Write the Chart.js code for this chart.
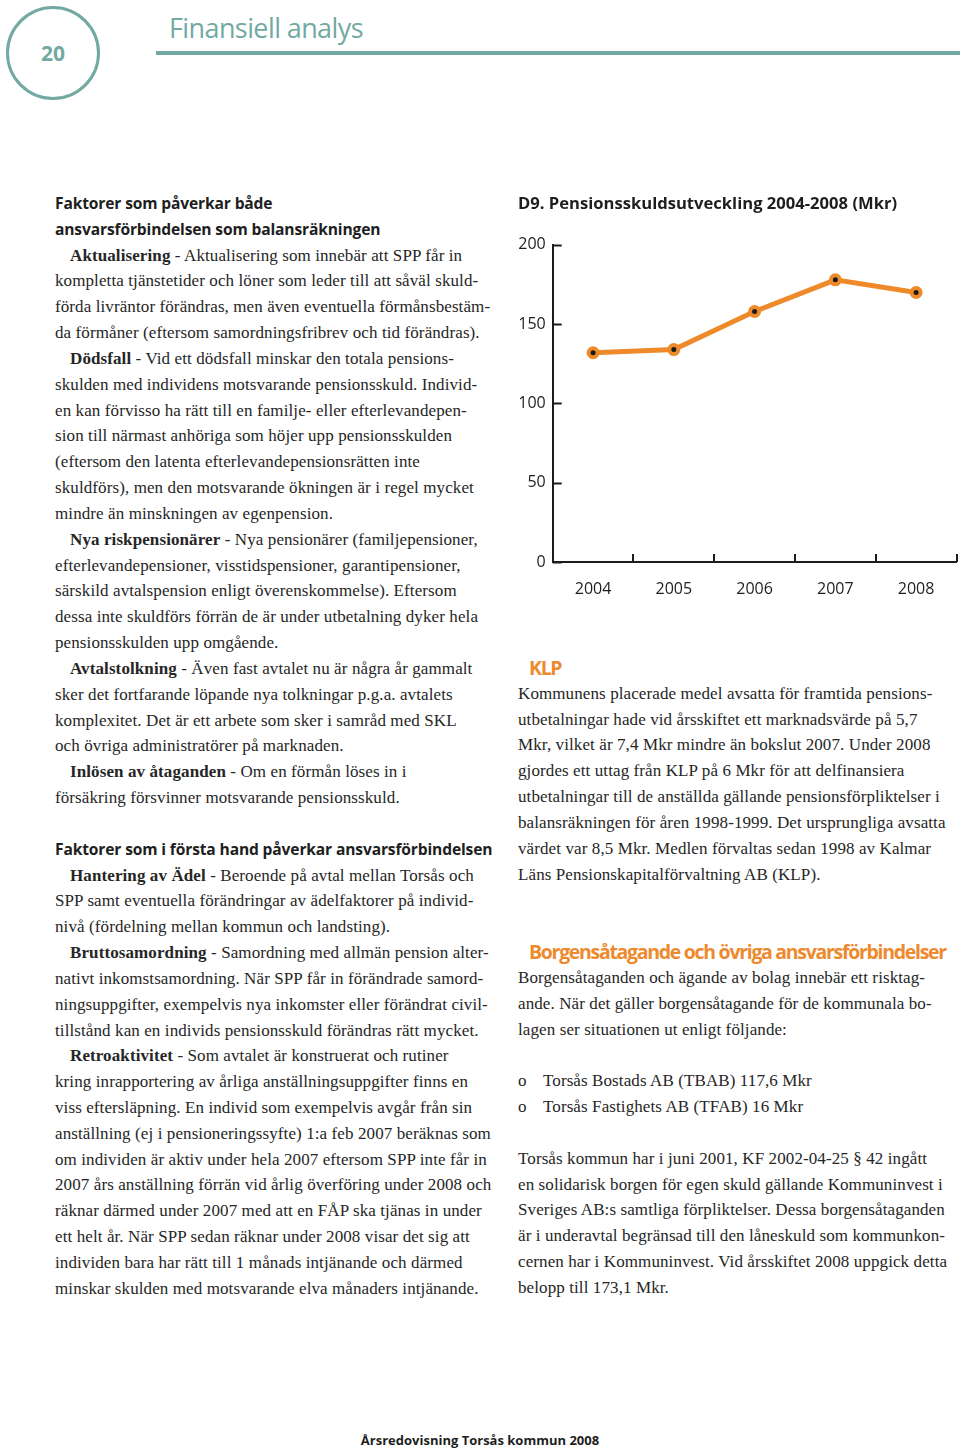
<!DOCTYPE html>
<html lang="sv">
<head>
<meta charset="utf-8">
<title>Finansiell analys</title>
<script src="https://cdn.jsdelivr.net/npm/chart.js@4.4.0/dist/chart.umd.min.js"></script>
<style>
  body { margin: 0; width: 960px; height: 1450px; background: #fff; position: relative; overflow: hidden; }
  .page-no { position: absolute; left: 6px; top: 6px; width: 88px; height: 88px; border: 3px solid #72a9a2; border-radius: 50%;
    font: bold 21px "Open Sans", sans-serif; color: #72a9a2; display: flex; align-items: center; justify-content: center; }
  .rubrik { position: absolute; left: 169px; top: 9px; font: 27px "Open Sans", sans-serif; font-weight: 400; color: #72a9a2; letter-spacing: -0.6px; }
  .linje { position: absolute; left: 156px; top: 51px; width: 804px; height: 4px; background: #72a9a2; }
  .col { position: absolute; font-family: "Liberation Serif", serif; font-size: 17px; letter-spacing: 0.1px; line-height: 25.83px; color: #262626; white-space: nowrap; }
  .col div { height: 25.83px; }
  .in { padding-left: 15px; }
  .h { font-family: "Open Sans", sans-serif; font-weight: 700; font-size: 15.6px; letter-spacing: -0.15px; color: #1e1e1e; }
  .or { font-family: "Open Sans", sans-serif; font-weight: 700; color: #ee8a2e; font-size: 19.5px; letter-spacing: -1.3px; padding-left: 11px; }
  .pt { display: inline-block; width: 25px; }
  .chart-box { position: absolute; left: 510px; top: 190px; width: 455px; height: 415px; }
  .fot { position: absolute; left: 0; width: 960px; top: 1431px; text-align: center; font: bold 13px "Open Sans", sans-serif; color: #1e1e1e; }
</style>
</head>
<body>
<div class="page-no">20</div>
<div class="rubrik">Finansiell analys</div>
<div class="linje"></div>

<div class="col" style="left:55px; top:191px;">
  <div class="h">Faktorer som påverkar både</div>
  <div class="h">ansvarsförbindelsen som balansräkningen</div>
  <div class="in"><b>Aktualisering</b> - Aktualisering som innebär att SPP får in</div>
  <div>kompletta tjänstetider och löner som leder till att såväl skuld-</div>
  <div>förda livräntor förändras, men även eventuella förmånsbestäm-</div>
  <div>da förmåner (eftersom samordningsfribrev och tid förändras).</div>
  <div class="in"><b>Dödsfall</b> - Vid ett dödsfall minskar den totala pensions-</div>
  <div>skulden med individens motsvarande pensionsskuld. Individ-</div>
  <div>en kan förvisso ha rätt till en familje- eller efterlevandepen-</div>
  <div>sion till närmast anhöriga som höjer upp pensionsskulden</div>
  <div>(eftersom den latenta efterlevandepensionsrätten inte</div>
  <div>skuldförs), men den motsvarande ökningen är i regel mycket</div>
  <div>mindre än minskningen av egenpension.</div>
  <div class="in"><b>Nya riskpensionärer</b> - Nya pensionärer (familjepensioner,</div>
  <div>efterlevandepensioner, visstidspensioner, garantipensioner,</div>
  <div>särskild avtalspension enligt överenskommelse). Eftersom</div>
  <div>dessa inte skuldförs förrän de är under utbetalning dyker hela</div>
  <div>pensionsskulden upp omgående.</div>
  <div class="in"><b>Avtalstolkning</b> - Även fast avtalet nu är några år gammalt</div>
  <div>sker det fortfarande löpande nya tolkningar p.g.a. avtalets</div>
  <div>komplexitet. Det är ett arbete som sker i samråd med SKL</div>
  <div>och övriga administratörer på marknaden.</div>
  <div class="in"><b>Inlösen av åtaganden</b> - Om en förmån löses in i</div>
  <div>försäkring försvinner motsvarande pensionsskuld.</div>
  <div></div>
  <div class="h">Faktorer som i första hand påverkar ansvarsförbindelsen</div>
  <div class="in"><b>Hantering av Ädel</b> - Beroende på avtal mellan Torsås och</div>
  <div>SPP samt eventuella förändringar av ädelfaktorer på individ-</div>
  <div>nivå (fördelning mellan kommun och landsting).</div>
  <div class="in"><b>Bruttosamordning</b> - Samordning med allmän pension alter-</div>
  <div>nativt inkomstsamordning. När SPP får in förändrade samord-</div>
  <div>ningsuppgifter, exempelvis nya inkomster eller förändrat civil-</div>
  <div>tillstånd kan en individs pensionsskuld förändras rätt mycket.</div>
  <div class="in"><b>Retroaktivitet</b> - Som avtalet är konstruerat och rutiner</div>
  <div>kring inrapportering av årliga anställningsuppgifter finns en</div>
  <div>viss eftersläpning. En individ som exempelvis avgår från sin</div>
  <div>anställning (ej i pensioneringssyfte) 1:a feb 2007 beräknas som</div>
  <div>om individen är aktiv under hela 2007 eftersom SPP inte får in</div>
  <div>2007 års anställning förrän vid årlig överföring under 2008 och</div>
  <div>räknar därmed under 2007 med att en FÅP ska tjänas in under</div>
  <div>ett helt år. När SPP sedan räknar under 2008 visar det sig att</div>
  <div>individen bara har rätt till 1 månads intjänande och därmed</div>
  <div>minskar skulden med motsvarande elva månaders intjänande.</div>
</div>

<div class="chart-box"><canvas id="pensionChart"></canvas></div>

<div class="col" style="left:518px; top:655px;">
  <div class="or">KLP</div>
  <div>Kommunens placerade medel avsatta för framtida pensions-</div>
  <div>utbetalningar hade vid årsskiftet ett marknadsvärde på 5,7</div>
  <div>Mkr, vilket är 7,4 Mkr mindre än bokslut 2007. Under 2008</div>
  <div>gjordes ett uttag från KLP på 6 Mkr för att delfinansiera</div>
  <div>utbetalningar till de anställda gällande pensionsförpliktelser i</div>
  <div>balansräkningen för åren 1998-1999. Det ursprungliga avsatta</div>
  <div>värdet var 8,5 Mkr. Medlen förvaltas sedan 1998 av Kalmar</div>
  <div>Läns Pensionskapitalförvaltning AB (KLP).</div>
  <div></div>
  <div></div>
  <div class="or">Borgensåtagande och övriga ansvarsförbindelser</div>
  <div>Borgensåtaganden och ägande av bolag innebär ett risktag-</div>
  <div>ande. När det gäller borgensåtagande för de kommunala bo-</div>
  <div>lagen ser situationen ut enligt följande:</div>
  <div></div>
  <div><span class="pt">o</span>Torsås Bostads AB (TBAB) 117,6 Mkr</div>
  <div><span class="pt">o</span>Torsås Fastighets AB (TFAB) 16 Mkr</div>
  <div></div>
  <div>Torsås kommun har i juni 2001, KF 2002-04-25 § 42 ingått</div>
  <div>en solidarisk borgen för egen skuld gällande Kommuninvest i</div>
  <div>Sveriges AB:s samtliga förpliktelser. Dessa borgensåtaganden</div>
  <div>är i underavtal begränsad till den låneskuld som kommunkon-</div>
  <div>cernen har i Kommuninvest. Vid årsskiftet 2008 uppgick detta</div>
  <div>belopp till 173,1 Mkr.</div>
</div>

<div class="fot">Årsredovisning Torsås kommun 2008</div>

<script>
// data för diagram D9
const ar = ['2004', '2005', '2006', '2007', '2008'];
const pensionsskuld = [132, 134, 158, 178, 170];
const yTicks = [0, 50, 100, 150, 200];

const orange = '#ef8a2b';
const axelFarg = '#1c1c1c';

// ritar korta streck inåt på axlarna
const inreStreck = {
    id: 'inreStreck',
    afterDraw(chart) {
        const { ctx, scales: { x, y } } = chart;
        ctx.save();
        ctx.strokeStyle = axelFarg;
        ctx.lineWidth = 2;
        ctx.beginPath();
        y.ticks.forEach(t => {
            const py = Math.round(y.getPixelForValue(t.value)) + 0.5;
            ctx.moveTo(x.left, py);
            ctx.lineTo(x.left + 9, py);
        });
        for (let i = 0; i < ar.length; i++) {
            const px = Math.round(x.getPixelForValue(i + 0.5));
            ctx.moveTo(px, y.bottom);
            ctx.lineTo(px, y.bottom - 8);
        }
        ctx.stroke();
        ctx.restore();
    }
};

const ctx = document.getElementById('pensionChart').getContext('2d');
new Chart(ctx, {
    type: 'line',
    data: {
        labels: ar,
        datasets: [{
            label: 'Pensionsskuld (Mkr)',
            data: pensionsskuld,
            borderColor: orange,
            borderWidth: 5,
            pointRadius: 4.5,
            pointHoverRadius: 4.5,
            pointBorderWidth: 4,
            pointBorderColor: orange,
            pointBackgroundColor: '#1a1a1a',
            tension: 0,
            clip: false
        }]
    },
    options: {
        responsive: true,
        maintainAspectRatio: false,
        animation: false,
        layout: { padding: { left: 8, right: 1, top: 4, bottom: 0 } },
        plugins: {
            legend: { display: false },
            tooltip: { enabled: false },
            title: {
                display: true,
                text: 'D9. Pensionsskuldsutveckling 2004-2008 (Mkr)',
                align: 'start',
                color: '#1e1e1e',
                font: { family: 'Open Sans', size: 16.6, weight: 'bold' },
                padding: { top: 0, bottom: 31 }
            }
        },
        scales: {
            x: {
                offset: true,
                grid: { display: false, drawTicks: false },
                border: { display: true, color: axelFarg, width: 2 },
                ticks: { color: '#1e1e1e', font: { family: 'Open Sans', size: 16 }, padding: 18 },
                afterFit(scale) { scale.height = 43; }
            },
            y: {
                min: 0,
                max: 200,
                afterBuildTicks(scale) { scale.ticks = yTicks.map(v => ({ value: v })); },
                grid: { display: false, drawTicks: false },
                border: { display: true, color: axelFarg, width: 2 },
                ticks: { color: '#1e1e1e', font: { family: 'Open Sans', size: 16 }, padding: 7 },
                afterFit(scale) { scale.width = 34.7; }
            }
        }
    },
    plugins: [inreStreck]
});
</script>
</body>
</html>
